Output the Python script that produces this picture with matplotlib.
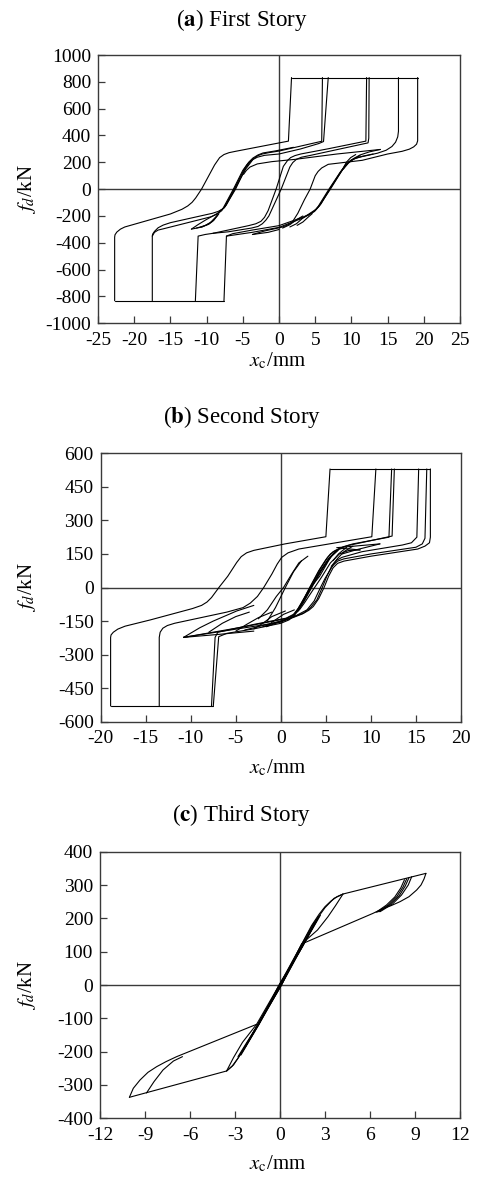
import matplotlib
matplotlib.use("Agg")
import matplotlib.pyplot as plt

plt.rcParams['font.family'] = ['Liberation Serif', 'DejaVu Serif']
plt.rcParams['mathtext.fontset'] = 'stix'
plt.rcParams['axes.unicode_minus'] = False

# ---------------- (a) First Story ----------------
A_XTICKS = [-25, -20, -15, -10, -5, 0, 5, 10, 15, 20, 25]
A_YTICKS = [-1000, -800, -600, -400, -200, 0, 200, 400, 600, 800, 1000]
A_PLATEAU_TOP = [(1.73, 832), (19.15, 832)]
A_PLATEAU_BOT = [(-22.7, -832), (-7.6, -832)]
A_OUTER_LEFT = [(1.73, 832), (1.3, 358), (-6.0, 282), (-6.9, 272), (-7.6, 258), (-8.2, 235), (-8.9, 180),
                (-9.6, 110), (-10.7, 0), (-11.5, -65), (-12.0, -98), (-12.6, -125), (-13.4, -150),
                (-15.0, -185), (-21.3, -282), (-21.9, -298), (-22.4, -320), (-22.65, -340), (-22.7, -358),
                (-22.7, -832)]
A_FAMA_UP = [(6.0, 832), (5.9, 357), (0.0, 284), (-1.4, 272), (-2.3, 262), (-2.9, 250), (-3.5, 228),
             (-4.6, 150), (-6.1, 0), (-7.3, -120), (-7.8, -148), (-8.4, -166), (-9.2, -180), (-10.2, -192),
             (-15.0, -250), (-16.0, -268), (-16.7, -288), (-17.2, -315), (-17.45, -335), (-17.5, -350),
             (-17.5, -832)]
A_FAMA_LO = [(-17.5, -350), (-17.2, -322), (-16.7, -305), (-16.0, -296), (-11.0, -228), (-9.4, -206),
             (-8.6, -188), (-7.9, -160), (-6.3, 0), (-5.0, 140), (-4.4, 185), (-3.8, 215), (-3.0, 238),
             (-2.0, 252), (0.0, 262), (3.0, 300), (5.5, 340), (6.15, 355), (6.8, 832)]
A_FAMA_2 = [(-12.1, -298), (-11.2, -265), (-10.2, -232), (-8.5, -180), (-7.6, -140), (-6.2, 0), (-4.8, 150),
            (-4.2, 200), (-3.6, 232), (-2.9, 255), (-2.2, 270), (-0.5, 285), (2.0, 312)]
A_FAMA_3 = [(-8.2, -165), (-7.5, -135), (-6.0, 0), (-4.7, 150), (-3.9, 210)]
A_LEAF_1 = [(-12.1, -298), (-10.6, -282), (-9.5, -250), (-8.5, -195)]
A_LEAF_2 = [(-11.4, -290), (-10.1, -270), (-9.2, -240), (-8.4, -188)]
A_LEAF_3 = [(-10.8, -283), (-9.7, -262), (-9.0, -232), (-8.3, -183)]
A_FAMA_RIGHT = [(-4.9, 110), (-4.5, 140), (-4.0, 165), (-3.0, 188), (-1.0, 205), (2.2, 222), (8.0, 262),
                (14.0, 296)]
A_FAMC_DOWN = [(14.0, 296), (12.5, 278), (11.2, 255), (10.2, 225), (9.6, 200), (9.1, 170), (8.6, 130),
               (7.0, 0), (5.6, -120), (5.1, -150), (4.7, -165), (3.3, -215), (0.0, -285), (-3.7, -322),
               (-7.26, -350), (-7.6, -832)]
A_FAMC_UP = [(-7.26, -350), (-6.4, -332), (-3.7, -305), (0.0, -272), (3.0, -215), (4.2, -188), (4.9, -165),
             (5.5, -130), (7.1, 0), (8.7, 140), (9.2, 180), (9.7, 205), (10.6, 232), (13.6, 268),
             (14.8, 290), (15.6, 318), (16.1, 350), (16.4, 390), (16.5, 432), (16.5, 832)]
A_FAMC_2 = [(4.0, -195), (5.0, -160), (5.8, -110), (7.0, 0), (8.4, 120), (9.2, 180), (10.0, 218),
            (11.5, 245), (13.0, 262)]
A_FAMC_3 = [(4.8, -170), (5.4, -130), (6.9, 0), (8.5, 130), (9.4, 190)]
A_LEAF_C1 = [(0.5, -290), (1.5, -265), (2.5, -225), (3.3, -200)]
A_LEAF_C2 = [(1.5, -282), (2.4, -258), (3.3, -215), (4.0, -195)]
A_LEAF_C3 = [(2.5, -270), (3.3, -245), (4.0, -210), (4.6, -182)]
A_LEAF_C4 = [(11.2, 250), (10.4, 228), (9.6, 195), (8.9, 150)]
A_LEAF_C5 = [(10.6, 258), (9.9, 235), (9.3, 200), (8.7, 140)]
A_FAMB = [(12.1, 832), (12.0, 358), (6.8, 301), (3.0, 262), (2.2, 250), (1.6, 235), (1.2, 215), (0.6, 170),
          (-0.4, 0), (-1.5, -160), (-2.0, -210), (-2.5, -240), (-3.2, -258), (-4.2, -272), (-9.1, -329)]
A_FAMB_RET = [(-9.1, -329), (-7.0, -318), (-3.8, -290), (-2.9, -278), (-2.3, -258), (-1.8, -230),
              (-1.4, -200), (0.3, 0), (1.5, 165), (1.9, 198), (2.4, 222), (3.1, 238), (4.2, 250),
              (12.3, 345), (12.4, 380), (12.45, 832)]
A_B3 = [(-11.55, -832), (-11.17, -350), (-10.2, -338), (-9.1, -329)]
A_OUTER_RIGHT = [(-3.67, -338), (-2.0, -312), (0.5, -282), (1.4, -262), (1.9, -240), (2.6, -180),
                 (3.5, -80), (4.3, 0), (5.0, 100), (5.4, 132), (5.9, 158), (6.8, 185), (11.5, 215),
                 (15.0, 262), (17.0, 282), (18.0, 298), (18.6, 315), (19.0, 335), (19.15, 360), (19.15, 832)]
A_LEAF_R = [(-3.67, -338), (-1.5, -322), (0.0, -301)]
A_BRANCHES = [A_PLATEAU_TOP, A_PLATEAU_BOT, A_OUTER_LEFT, A_FAMA_UP, A_FAMA_LO, A_FAMA_2, A_FAMA_3,
              A_LEAF_1, A_LEAF_2, A_LEAF_3, A_FAMA_RIGHT, A_FAMC_DOWN, A_FAMC_UP, A_FAMC_2, A_FAMC_3,
              A_LEAF_C1, A_LEAF_C2, A_LEAF_C3, A_LEAF_C4, A_LEAF_C5, A_FAMB, A_FAMB_RET, A_B3,
              A_OUTER_RIGHT, A_LEAF_R]

# ---------------- (b) Second Story ----------------
B_XTICKS = [-20, -15, -10, -5, 0, 5, 10, 15, 20]
B_YTICKS = [-600, -450, -300, -150, 0, 150, 300, 450, 600]
B_PLATEAU_TOP = [(5.46, 530), (16.6, 530)]
B_PLATEAU_BOT = [(-18.9, -530), (-7.5, -530)]
B_OUTER_LEFT = [(5.46, 530), (5.0, 227), (0.47, 195), (-3.0, 166), (-3.8, 155), (-4.4, 138), (-4.9, 112),
                (-5.9, 50), (-6.8, 4), (-7.7, -45), (-8.2, -65), (-8.8, -80), (-9.8, -94), (-14.5, -145),
                (-17.3, -173), (-18.1, -186), (-18.6, -200), (-18.85, -212), (-18.9, -223), (-18.9, -530)]
B_LOOP2 = [(-13.5, -530), (-13.5, -223), (-13.4, -200), (-13.1, -182), (-12.6, -170), (-11.8, -160),
           (-6.0, -110), (-4.2, -90), (-3.4, -70), (-2.6, -40), (-1.9, 0), (-1.0, 60), (-0.4, 105),
           (0.1, 135), (0.8, 155), (2.0, 172), (10.1, 227), (10.55, 530)]
B_THICK_UP = [(12.3, 530), (12.0, 225), (8.0, 195), (7.0, 183), (6.4, 172), (5.8, 150), (5.3, 120),
              (4.3, 50), (3.3, 0), (2.4, -60), (1.9, -95), (1.4, -120), (0.6, -137), (-3.0, -165),
              (-7.0, -200), (-7.3, -223), (-7.7, -530)]
B_THICK_LO = [(-7.5, -530), (-6.9, -220), (-6.0, -205), (-3.0, -185), (0.0, -160), (0.9, -145), (1.5, -125),
              (2.2, -80), (3.1, -10), (3.5, 20), (4.4, 85), (5.2, 135), (5.8, 160), (6.5, 175), (7.5, 188),
              (12.35, 230), (12.6, 530)]
B_THICK_2 = [(-10.8, -223), (-8.0, -205), (-4.0, -180), (0.0, -155), (1.0, -138), (1.6, -115), (2.3, -70),
             (3.2, 0), (4.2, 75), (5.0, 125), (5.5, 150), (6.1, 166), (6.8, 175), (8.8, 168)]
B_THICK_3 = [(8.8, 168), (7.5, 165), (6.5, 150), (5.5, 110), (4.5, 45), (3.5, -15), (2.6, -70), (2.1, -98),
             (1.5, -122), (0.5, -140), (-4.0, -175), (-10.8, -223)]
B_THICK_4 = [(1.6, -115), (2.3, -75), (3.3, 0), (4.3, 70), (5.3, 130), (6.2, 165)]
B_THICK_5 = [(1.9, -105), (2.6, -60), (3.5, 5), (4.5, 75), (5.5, 135), (6.4, 168)]
B_THICK_6 = [(1.7, -112), (2.45, -68), (3.4, 2), (4.4, 72), (5.4, 132), (6.3, 166)]
B_TIP_R1 = [(6.2, 178), (11.0, 195)]
B_TIP_R2 = [(6.8, 150), (8.5, 170), (11.0, 195)]
B_TIP_L1 = [(-10.8, -223), (-9.0, -180), (-7.5, -150), (-4.9, -105), (-3.0, -80)]
B_TIP_L2 = [(-10.8, -223), (-7.0, -210), (-3.0, -195)]
B_OUTER_R1 = [(16.6, 530), (16.6, 225), (16.5, 200), (16.0, 185), (15.2, 172), (10.0, 140), (7.0, 118),
              (6.3, 108), (5.8, 88), (5.3, 50), (4.8, 0), (4.2, -50), (3.6, -85), (3.1, -102), (2.4, -118),
              (1.0, -140), (-4.0, -190)]
B_OUTER_R2 = [(16.2, 530), (16.0, 220), (15.7, 195), (15.0, 180), (10.0, 150), (7.0, 128), (6.3, 118),
              (5.6, 92), (5.1, 50), (4.6, 0), (4.0, -55), (3.3, -90), (2.5, -115), (0.0, -150), (-2.0, -175)]
B_OUTER_R3 = [(15.3, 530), (15.1, 225), (14.5, 200), (13.5, 190), (9.0, 160), (6.8, 135), (6.2, 122),
              (5.8, 100), (4.9, 40), (4.4, 0), (3.7, -60), (2.9, -100), (1.5, -130), (-1.6, -175)]
B_LEAF_1 = [(-8.0, -200), (-6.5, -160), (-5.0, -130), (-3.5, -110)]
B_LEAF_2 = [(-5.0, -195), (-3.8, -165), (-2.5, -135), (-1.0, -110)]
B_LEAF_3 = [(-3.0, -185), (-2.0, -160), (-1.0, -130), (0.5, -105)]
B_LEAF_4 = [(-1.6, -175), (-0.8, -150), (0.3, -120), (1.5, -100)]
B_LEAF_5 = [(8.0, 185), (7.0, 160), (6.3, 130), (5.6, 95)]
B_LEAF_6 = [(7.3, 180), (6.4, 150), (5.8, 120)]
B_MID_1 = [(-2.5, -140), (-1.5, -100), (-0.5, -40), (0.3, 0), (1.2, 60), (2.0, 110), (3.0, 140)]
B_MID_2 = [(-1.5, -150), (-0.6, -90), (0.5, 0), (1.4, 70), (2.3, 120)]
B_BRANCHES = [B_PLATEAU_TOP, B_PLATEAU_BOT, B_OUTER_LEFT, B_LOOP2, B_THICK_UP, B_THICK_LO, B_THICK_2,
              B_THICK_3, B_THICK_4, B_THICK_5, B_THICK_6, B_TIP_R1, B_TIP_R2, B_TIP_L1, B_TIP_L2,
              B_OUTER_R1, B_OUTER_R2, B_OUTER_R3, B_LEAF_1, B_LEAF_2, B_LEAF_3, B_LEAF_4, B_LEAF_5,
              B_LEAF_6, B_MID_1, B_MID_2]

# ---------------- (c) Third Story ----------------
C_XTICKS = [-12, -9, -6, -3, 0, 3, 6, 9, 12]
C_YTICKS = [-400, -300, -200, -100, 0, 100, 200, 300, 400]
C_UPPER = [(-3.56, -258), (-3.2, -244), (-2.8, -220), (-2.2, -175), (-1.56, -125), (0.0, 0), (1.33, 113),
           (2.1, 178), (2.6, 212), (3.0, 235), (3.4, 252), (3.8, 265), (4.2, 273), (9.73, 335)]
C_RET_R = [(9.73, 335), (9.6, 318), (9.4, 300), (9.11, 285), (8.6, 265), (8.0, 250), (7.4, 238),
           (6.89, 230), (6.2, 215), (1.44, 123), (0.1, 0), (-1.45, -120), (-2.3, -185), (-3.1, -240),
           (-3.56, -258), (-10.04, -337)]
C_RET_L = [(-10.04, -337), (-9.78, -310), (-9.33, -285), (-8.8, -262), (-8.22, -245), (-7.6, -230),
           (-6.89, -215), (-1.56, -118), (-0.05, 0), (1.4, 118), (2.2, 182), (3.0, 232), (3.6, 260), (4.2, 273)]
C_TIP_UL = [(4.2, 273), (3.7, 238), (3.2, 205), (2.5, 165), (1.44, 123)]
C_TIP_LL = [(-3.56, -258), (-3.1, -218), (-2.5, -172), (-1.56, -118)]
C_TIP_R1 = [(8.78, 325), (8.55, 300), (8.1, 270), (7.5, 243), (6.67, 220)]
C_TIP_R2 = [(8.6, 322), (8.35, 297), (7.95, 268), (7.35, 242), (6.6, 220)]
C_TIP_R3 = [(8.45, 319), (8.2, 294), (7.8, 266), (7.25, 241), (6.5, 219)]
C_TIP_R4 = [(8.3, 316), (8.05, 291), (7.65, 264), (7.1, 240), (6.4, 218)]
C_TIP_L2 = [(-8.9, -324), (-8.4, -290), (-7.8, -255), (-7.1, -228), (-6.5, -215)]
C_BAND_1 = [(-2.8, -215), (-1.6, -128), (0.0, -8), (1.4, 110), (2.6, 205)]
C_BAND_2 = [(-2.6, -210), (-1.3, -110), (0.15, 5), (1.55, 120), (2.7, 210)]
C_BAND_3 = [(-2.5, -200), (-1.4, -118), (-0.1, -3), (1.3, 100), (2.4, 190)]
C_BAND_4 = [(-2.4, -190), (-1.2, -100), (0.05, 8), (1.5, 115), (2.5, 200)]
C_BAND_5 = [(-2.7, -212), (-1.5, -122), (-0.05, -5), (1.45, 115), (2.55, 203)]
C_BAND_6 = [(-2.3, -185), (-1.35, -108), (0.1, 3), (1.35, 108), (2.3, 185)]
C_BRANCHES = [C_UPPER, C_RET_R, C_RET_L, C_TIP_UL, C_TIP_LL, C_TIP_R1, C_TIP_R2, C_TIP_R3, C_TIP_R4,
              C_TIP_L2, C_BAND_1, C_BAND_2, C_BAND_3, C_BAND_4, C_BAND_5, C_BAND_6]

TITLES = [r'($\mathbf{a}$) First Story', r'($\mathbf{b}$) Second Story', r'($\mathbf{c}$) Third Story']

W, H = 481, 1177
fig = plt.figure(figsize=(W / 100, H / 100), dpi=100)
fig.patch.set_facecolor('white')

# axes boxes in pixel coordinates: left, top, right, bottom
boxes = [(98, 55, 460, 323.3), (100.7, 453.3, 461, 721.7), (100, 851.7, 460, 1118.3)]
title_y = [20, 417, 815]
xlabel_y = [361, 768, 1164]
panels = [(A_BRANCHES, A_XTICKS, A_YTICKS), (B_BRANCHES, B_XTICKS, B_YTICKS),
          (C_BRANCHES, C_XTICKS, C_YTICKS)]

spine_col = '#3a3a3a'
for i, (branches, xt, yt) in enumerate(panels):
    l, t, r, b = boxes[i]
    ax = fig.add_axes([l / W, 1 - b / H, (r - l) / W, (b - t) / H])
    for br in branches:
        xs = [p[0] for p in br]
        ys = [p[1] for p in br]
        ax.plot(xs, ys, color='black', lw=0.8, solid_joinstyle='round', solid_capstyle='round')
    ax.axhline(0, color=spine_col, lw=1.0, zorder=0)
    ax.axvline(0, color=spine_col, lw=1.0, zorder=0)
    ax.set_xlim(xt[0], xt[-1])
    ax.set_ylim(yt[0], yt[-1])
    ax.set_xticks(xt)
    ax.set_yticks(yt)
    ax.set_xticklabels([str(v) for v in xt])
    ax.set_yticklabels([str(v) for v in yt])
    ax.tick_params(direction='in', length=5, width=0.9, color=spine_col, labelsize=14,
                   top=False, right=False)
    ax.tick_params(axis='x', pad=6)
    ax.tick_params(axis='y', pad=5)
    for s in ax.spines.values():
        s.set_color(spine_col)
        s.set_linewidth(1.0)
    fig.text(242 / W, 1 - title_y[i] / H, TITLES[i], ha='center', va='center', fontsize=16.5)
    fig.text(278 / W, 1 - xlabel_y[i] / H, r'$x_{\mathrm{c}}$/mm', ha='center', va='center', fontsize=15)
    fig.text(27 / W, 1 - ((t + b) / 2) / H, r'$f_d$/kN', ha='center', va='center', rotation=90,
             fontsize=15)

fig.savefig('out.png', dpi=100)
